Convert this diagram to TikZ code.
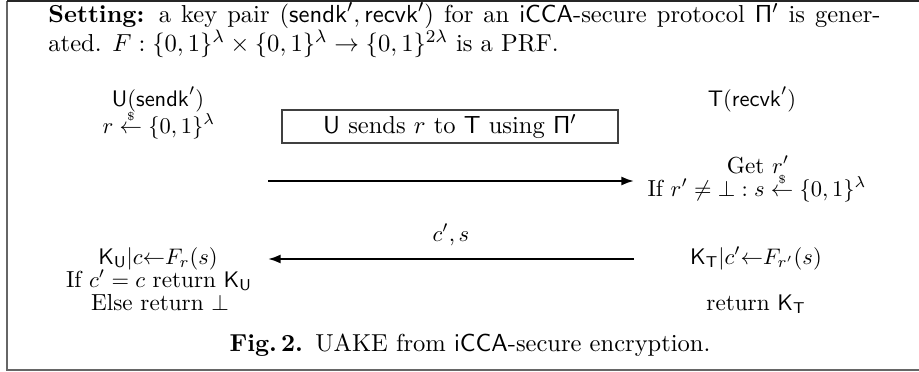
\documentclass[tikz,border=0pt]{standalone}
\usepackage{amsmath}
\usetikzlibrary{arrows.meta}
\newcommand{\sampleArrow}{\overset{\scriptscriptstyle\$}{\leftarrow}}
\newcommand{\bigtext}{\fontsize{10.9}{11.8}\selectfont}
\newcommand{\roletext}{\fontsize{10.3}{11.8}\selectfont}
\tikzset{
  lbl/.style={anchor=base, inner sep=0pt, font=\roletext},
  msg/.style={line width=0.9pt, -{Latex[length=5.6pt,width=4pt]}},
  sendbox/.style={draw=black!75, line width=0.5pt, minimum width=149.3pt, minimum height=14.7pt, inner sep=0pt, font=\bigtext},
  frameline/.style={draw=black!60, line width=0.7pt}
}
\begin{document}
\begin{tikzpicture}[x=0.4444pt, y=-0.4444pt]
  \useasboundingbox (0,0) rectangle (919,372);
  % outer frame (open to the right)
  \coordinate (ftl) at (7,1);
  \coordinate (ftr) at (919,1);
  \coordinate (fbl) at (7,370);
  \coordinate (fbr) at (919,370);
  \draw[frameline] (fbr) -- (fbl) -- (ftl);
  \draw[frameline, draw=black!85] (ftl) -- (ftr);

  % setting paragraph
  \node[anchor=base west, inner sep=0pt, font=\bigtext] (setting) at (48,22)
    {\parbox[t]{369.8pt}{\bigtext\textbf{Setting:} a key pair $(\mathsf{sendk}',\mathsf{recvk}')$ for an $\mathsf{iCCA}$-secure protocol $\mathsf{\Pi}'$ is gener-\linebreak
     ated. $F:\{0,1\}^\lambda\times\{0,1\}^\lambda\rightarrow\{0,1\}^{2\lambda}$ is a PRF.}};

  % party U
  \node[lbl] (U) at (158,106) {$\mathsf{U}(\mathsf{sendk}')$};
  \node[lbl] (Ur) at (159,133) {$r\sampleArrow\{0,1\}^\lambda$};
  \node[lbl] (UK) at (158,264) {$\mathsf{K}_\mathsf{U}|c{\leftarrow}F_r(s)$};
  \node[lbl] (Uchk) at (159,287) {If $c'=c$ return $\mathsf{K}_\mathsf{U}$};
  \node[lbl] (Uelse) at (160,310) {Else return $\bot$};

  % party T
  \node[lbl] (T) at (752,106) {$\mathsf{T}(\mathsf{recvk}')$};
  \node[lbl] (Tget) at (758,173) {Get $r'$};
  \node[lbl] (Ts) at (757,196) {If $r'\neq\bot:s\sampleArrow\{0,1\}^\lambda$};
  \node[lbl] (TK) at (756,264) {$\mathsf{K}_\mathsf{T}|c'{\leftarrow}F_{r'}(s)$};
  \node[lbl] (Tret) at (756,310) {return $\mathsf{K}_\mathsf{T}$};

  % first message, sent through the iCCA protocol
  \node[sendbox] (box) at (450,126.5) {$\mathsf{U}$ sends $r$ to $\mathsf{T}$ using $\mathsf{\Pi}'$};
  \coordinate (m1s) at (268,181);
  \coordinate (m1e) at (634,181);
  \draw[msg] (m1s) -- (m1e);

  % second message
  \coordinate (m2s) at (634,259);
  \coordinate (m2e) at (268,259);
  \draw[msg] (m2s) -- (m2e);
  \node[lbl] (m2lbl) at (451,241) {$c',s$};

  % caption
  \node[lbl, font=\bigtext] (cap) at (470,351) {\textbf{Fig.\,2.}\enspace UAKE from $\mathsf{iCCA}$-secure encryption.};
\end{tikzpicture}
\end{document}
